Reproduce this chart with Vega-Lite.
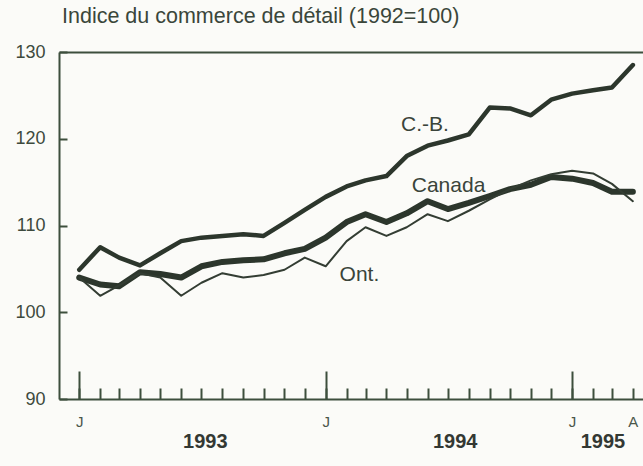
{
  "$schema": "https://vega.github.io/schema/vega-lite/v6.json",
  "width": 584,
  "height": 347,
  "autosize": "none",
  "padding": {"left": 59, "top": 52, "right": 0, "bottom": 67},
  "background": "#fbfbf8",
  "config": {"view": {"stroke": null}, "font": "Liberation Sans"},
  "title": {"text": "Indice du commerce de détail (1992=100)", "anchor": "start", "frame": "group", "dx": 3, "fontSize": 21.5, "fontWeight": "normal", "color": "#3a463a", "offset": 16},
  "datasets": {
    "series": [
      {"date": "1993-01-01", "series": "Canada", "value": 104.0},
      {"date": "1993-02-01", "series": "Canada", "value": 103.2},
      {"date": "1993-03-01", "series": "Canada", "value": 103.0},
      {"date": "1993-04-01", "series": "Canada", "value": 104.6},
      {"date": "1993-05-01", "series": "Canada", "value": 104.4},
      {"date": "1993-06-01", "series": "Canada", "value": 104.0},
      {"date": "1993-07-01", "series": "Canada", "value": 105.3},
      {"date": "1993-08-01", "series": "Canada", "value": 105.8},
      {"date": "1993-09-01", "series": "Canada", "value": 106.0},
      {"date": "1993-10-01", "series": "Canada", "value": 106.1},
      {"date": "1993-11-01", "series": "Canada", "value": 106.8},
      {"date": "1993-12-01", "series": "Canada", "value": 107.3},
      {"date": "1994-01-01", "series": "Canada", "value": 108.6},
      {"date": "1994-02-01", "series": "Canada", "value": 110.4},
      {"date": "1994-03-01", "series": "Canada", "value": 111.3},
      {"date": "1994-04-01", "series": "Canada", "value": 110.4},
      {"date": "1994-05-01", "series": "Canada", "value": 111.4},
      {"date": "1994-06-01", "series": "Canada", "value": 112.8},
      {"date": "1994-07-01", "series": "Canada", "value": 111.9},
      {"date": "1994-08-01", "series": "Canada", "value": 112.6},
      {"date": "1994-09-01", "series": "Canada", "value": 113.4},
      {"date": "1994-10-01", "series": "Canada", "value": 114.2},
      {"date": "1994-11-01", "series": "Canada", "value": 114.7},
      {"date": "1994-12-01", "series": "Canada", "value": 115.6},
      {"date": "1995-01-01", "series": "Canada", "value": 115.4},
      {"date": "1995-02-01", "series": "Canada", "value": 114.9},
      {"date": "1995-03-01", "series": "Canada", "value": 113.9},
      {"date": "1995-04-01", "series": "Canada", "value": 113.9},
      {"date": "1993-01-01", "series": "C.-B.", "value": 104.9},
      {"date": "1993-02-01", "series": "C.-B.", "value": 107.5},
      {"date": "1993-03-01", "series": "C.-B.", "value": 106.3},
      {"date": "1993-04-01", "series": "C.-B.", "value": 105.4},
      {"date": "1993-05-01", "series": "C.-B.", "value": 106.8},
      {"date": "1993-06-01", "series": "C.-B.", "value": 108.2},
      {"date": "1993-07-01", "series": "C.-B.", "value": 108.6},
      {"date": "1993-08-01", "series": "C.-B.", "value": 108.8},
      {"date": "1993-09-01", "series": "C.-B.", "value": 109.0},
      {"date": "1993-10-01", "series": "C.-B.", "value": 108.8},
      {"date": "1993-11-01", "series": "C.-B.", "value": 110.3},
      {"date": "1993-12-01", "series": "C.-B.", "value": 111.8},
      {"date": "1994-01-01", "series": "C.-B.", "value": 113.3},
      {"date": "1994-02-01", "series": "C.-B.", "value": 114.5},
      {"date": "1994-03-01", "series": "C.-B.", "value": 115.2},
      {"date": "1994-04-01", "series": "C.-B.", "value": 115.7},
      {"date": "1994-05-01", "series": "C.-B.", "value": 118.0},
      {"date": "1994-06-01", "series": "C.-B.", "value": 119.2},
      {"date": "1994-07-01", "series": "C.-B.", "value": 119.8},
      {"date": "1994-08-01", "series": "C.-B.", "value": 120.5},
      {"date": "1994-09-01", "series": "C.-B.", "value": 123.6},
      {"date": "1994-10-01", "series": "C.-B.", "value": 123.5},
      {"date": "1994-11-01", "series": "C.-B.", "value": 122.7},
      {"date": "1994-12-01", "series": "C.-B.", "value": 124.5},
      {"date": "1995-01-01", "series": "C.-B.", "value": 125.2},
      {"date": "1995-02-01", "series": "C.-B.", "value": 125.6},
      {"date": "1995-03-01", "series": "C.-B.", "value": 125.9},
      {"date": "1995-04-01", "series": "C.-B.", "value": 128.5},
      {"date": "1993-01-01", "series": "Ont.", "value": 104.0},
      {"date": "1993-02-01", "series": "Ont.", "value": 101.9},
      {"date": "1993-03-01", "series": "Ont.", "value": 103.1},
      {"date": "1993-04-01", "series": "Ont.", "value": 104.5},
      {"date": "1993-05-01", "series": "Ont.", "value": 104.0},
      {"date": "1993-06-01", "series": "Ont.", "value": 101.9},
      {"date": "1993-07-01", "series": "Ont.", "value": 103.4},
      {"date": "1993-08-01", "series": "Ont.", "value": 104.5},
      {"date": "1993-09-01", "series": "Ont.", "value": 104.0},
      {"date": "1993-10-01", "series": "Ont.", "value": 104.3},
      {"date": "1993-11-01", "series": "Ont.", "value": 104.9},
      {"date": "1993-12-01", "series": "Ont.", "value": 106.3},
      {"date": "1994-01-01", "series": "Ont.", "value": 105.3},
      {"date": "1994-02-01", "series": "Ont.", "value": 108.2},
      {"date": "1994-03-01", "series": "Ont.", "value": 109.8},
      {"date": "1994-04-01", "series": "Ont.", "value": 108.8},
      {"date": "1994-05-01", "series": "Ont.", "value": 109.8},
      {"date": "1994-06-01", "series": "Ont.", "value": 111.3},
      {"date": "1994-07-01", "series": "Ont.", "value": 110.5},
      {"date": "1994-08-01", "series": "Ont.", "value": 111.7},
      {"date": "1994-09-01", "series": "Ont.", "value": 113.0},
      {"date": "1994-10-01", "series": "Ont.", "value": 114.2},
      {"date": "1994-11-01", "series": "Ont.", "value": 115.2},
      {"date": "1994-12-01", "series": "Ont.", "value": 115.9},
      {"date": "1995-01-01", "series": "Ont.", "value": 116.3},
      {"date": "1995-02-01", "series": "Ont.", "value": 116.0},
      {"date": "1995-03-01", "series": "Ont.", "value": 114.8},
      {"date": "1995-04-01", "series": "Ont.", "value": 112.8}
    ],
    "labels": [
      {"date": "1994-05-28", "value": 121.6, "label": "C.-B."},
      {"date": "1994-07-02", "value": 114.6, "label": "Canada"},
      {"date": "1994-02-20", "value": 104.3, "label": "Ont."}
    ]
  },
  "resolve": {"axis": {"x": "independent", "y": "independent"}},
  "layer": [
    {
      "data": {"name": "series"},
      "transform": [{"filter": "datum.series == 'Canada'"}],
      "mark": {"type": "line", "color": "#2c362c", "strokeWidth": 6, "strokeJoin": "round", "strokeCap": "round"},
      "encoding": {
        "x": {
          "field": "date", "type": "temporal",
          "scale": {"type": "utc", "domain": [{"year": 1992, "month": 12, "date": 2, "utc": true}, {"year": 1995, "month": 4, "date": 16, "utc": true}]},
          "axis": {
            "orient": "bottom",
            "title": null,
            "tickCount": {"interval": "month", "step": 1},
            "labelExpr": "utcmonth(datum.value) == 0 ? 'J' : ((utcyear(datum.value) == 1995 && utcmonth(datum.value) == 3) ? 'A' : '')",
            "tickSize": -11,
            "tickColor": "#3d4f3d",
            "tickWidth": 2,
            "domainColor": "#3d4f3d",
            "domainWidth": 2,
            "labelOverlap": false,
            "labelBound": false,
            "labelFlush": false,
            "labelFontSize": 15,
            "labelColor": "#4a564a",
            "labelPadding": 26,
            "labelBaseline": "top",
            "grid": false
          }
        },
        "y": {
          "field": "value", "type": "quantitative",
          "scale": {"domain": [90, 130], "nice": false, "zero": false},
          "axis": {
            "orient": "left",
            "title": null,
            "values": [90, 100, 110, 120, 130],
            "tickSize": -8,
            "tickWidth": 2,
            "tickColor": "#3d4f3d",
            "domainColor": "#3d4f3d",
            "domainWidth": 2,
            "labelFontSize": 18,
            "labelColor": "#3d4a3d",
            "labelPadding": 22,
            "grid": true,
            "gridColor": "#3d4f3d",
            "gridWidth": 2,
            "gridOpacity": {"condition": {"test": "datum.value == 130", "value": 1}, "value": 0}
          }
        }
      }
    },
    {
      "data": {"name": "series"},
      "transform": [{"filter": "datum.series == 'C.-B.'"}],
      "mark": {"type": "line", "color": "#2c362c", "strokeWidth": 4.5, "strokeJoin": "round", "strokeCap": "round"},
      "encoding": {
        "x": {
          "field": "date", "type": "temporal",
          "axis": {
            "orient": "bottom",
            "title": null,
            "values": [
              {"year": 1993, "month": 1, "date": 1, "utc": true},
              {"year": 1994, "month": 1, "date": 1, "utc": true},
              {"year": 1995, "month": 1, "date": 1, "utc": true}
            ],
            "labels": false,
            "domain": false,
            "grid": false,
            "tickSize": -28,
            "tickWidth": 2,
            "tickColor": "#3d4f3d"
          }
        },
        "y": {"field": "value", "type": "quantitative", "axis": null}
      }
    },
    {
      "data": {"name": "series"},
      "transform": [{"filter": "datum.series == 'Ont.'"}],
      "mark": {"type": "line", "color": "#333d33", "strokeWidth": 2, "strokeJoin": "round", "strokeCap": "round"},
      "encoding": {
        "x": {
          "field": "date", "type": "temporal",
          "axis": {
            "orient": "bottom",
            "title": null,
            "values": [
              {"year": 1993, "month": 7, "date": 6, "utc": true},
              {"year": 1994, "month": 7, "date": 11, "utc": true},
              {"year": 1995, "month": 2, "date": 15, "utc": true}
            ],
            "labelExpr": "toString(utcyear(datum.value))",
            "domain": false,
            "ticks": false,
            "grid": false,
            "labelOverlap": false,
            "labelBound": false,
            "labelFlush": false,
            "labelFontSize": 20,
            "labelFontWeight": "bold",
            "labelColor": "#333833",
            "labelPadding": 32,
            "labelBaseline": "top"
          }
        },
        "y": {"field": "value", "type": "quantitative", "axis": null}
      }
    },
    {
      "data": {"name": "labels"},
      "mark": {"type": "text", "fontSize": 21, "color": "#3a443a", "align": "center", "baseline": "middle"},
      "encoding": {
        "x": {"field": "date", "type": "temporal", "axis": null},
        "y": {"field": "value", "type": "quantitative", "axis": null},
        "text": {"field": "label"}
      }
    }
  ]
}
